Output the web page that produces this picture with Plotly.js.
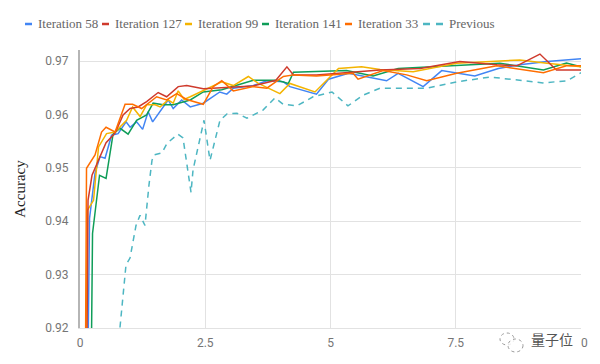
<!DOCTYPE html>
<html>
<head>
<meta charset="utf-8">
<script src="https://cdn.plot.ly/plotly-3.0.1.min.js"></script>
<style>html,body{margin:0;padding:0;background:#fff}#chart{width:600px;height:364px}</style>
</head>
<body>
<div id="chart"></div>
<script>
// ---- data ----
const seriesNames = ["Iteration 58", "Iteration 127", "Iteration 99", "Iteration 141", "Iteration 33", "Previous"];
const seriesColors = ["#4285f4", "#cf3a2c", "#f4b400", "#0f9d58", "#ff6d00", "#4db6c2"];

const it58X = [0.12,0.19,0.30,0.40,0.50,0.63,0.76,0.92,1.00,1.13,1.25,1.36,1.45,1.60,1.76,1.86,2.03,2.20,2.46,2.79,2.93,3.06,3.46,3.73,4.06,4.19,4.72,4.96,5.36,6.12,6.35,6.85,7.22,7.88,8.35,8.78,9.32,10.0];
const it58Y = [0.88,0.9405,0.9490,0.9521,0.9518,0.9561,0.9564,0.9586,0.9576,0.9586,0.9572,0.9605,0.9586,0.9605,0.9627,0.9611,0.9627,0.9614,0.9621,0.9642,0.9638,0.9649,0.9654,0.9663,0.9661,0.9652,0.9638,0.9666,0.9677,0.9663,0.9677,0.9652,0.9682,0.9672,0.9686,0.9693,0.9699,0.9704];

const it127X = [0.11,0.16,0.24,0.40,0.52,0.70,0.86,1.00,1.16,1.33,1.56,1.73,1.96,2.13,2.46,3.45,3.91,4.13,4.26,4.72,5.35,5.99,6.79,7.58,8.32,8.72,9.18,9.51,10.0];
const it127Y = [0.88,0.9439,0.9486,0.9521,0.9547,0.9565,0.9599,0.9611,0.9614,0.9624,0.9641,0.9633,0.9652,0.9654,0.9648,0.9653,0.9664,0.9689,0.9674,0.9674,0.9679,0.9683,0.9686,0.9699,0.9693,0.9691,0.9713,0.9683,0.9683];

const it99X = [0.07,0.15,0.27,0.37,0.53,0.70,0.93,1.05,1.20,1.33,1.50,1.60,1.76,1.86,1.96,2.08,2.20,2.49,2.83,3.06,3.36,3.56,3.99,4.19,4.69,5.16,5.62,5.99,6.65,7.52,8.78,9.32,10.0];
const it99Y = [0.88,0.9421,0.9439,0.9539,0.9564,0.9567,0.9589,0.9614,0.9596,0.9618,0.9618,0.9614,0.9627,0.9621,0.9644,0.9628,0.9633,0.9646,0.9661,0.9654,0.9671,0.9658,0.9639,0.9658,0.9642,0.9686,0.9689,0.9684,0.9680,0.9696,0.9702,0.9696,0.9689];

const it141X = [0.19,0.25,0.39,0.52,0.66,0.80,0.96,1.13,1.33,1.46,1.66,1.86,2.20,2.46,2.83,3.46,3.93,4.16,4.26,5.32,5.85,6.35,8.38,9.25,9.71,10.0];
const it141Y = [0.88,0.9377,0.9486,0.9480,0.9563,0.9574,0.9563,0.9589,0.9599,0.9621,0.9618,0.9618,0.9627,0.9642,0.9646,0.9664,0.9664,0.9658,0.9679,0.9682,0.9672,0.9686,0.9696,0.9683,0.9696,0.9689];

const it33X = [0.09,0.13,0.30,0.43,0.52,0.70,0.90,1.05,1.23,1.53,1.73,1.93,2.13,2.46,2.66,2.83,3.06,3.46,3.73,4.06,4.26,4.72,5.45,5.55,6.05,6.52,6.92,7.52,8.32,9.25,9.71,10.0];
const it33Y = [0.88,0.9499,0.9524,0.9567,0.9576,0.9567,0.9619,0.9619,0.9611,0.9633,0.9627,0.9639,0.9628,0.9619,0.9652,0.9663,0.9644,0.9652,0.9649,0.9671,0.9674,0.9672,0.9677,0.9666,0.9682,0.9674,0.9663,0.9677,0.9691,0.9678,0.9691,0.9691];

const prevX = [0.798,0.918,0.998,1.118,1.198,1.297,1.377,1.437,1.477,1.637,1.737,1.836,1.956,2.056,2.216,2.256,2.475,2.595,2.794,2.934,3.134,3.333,3.653,3.892,4.052,4.331,4.651,5.03,5.349,5.649,5.988,6.926,7.525,8.184,9.242,9.721,10.0];
const prevY = [0.9201,0.9318,0.9331,0.9392,0.9411,0.9392,0.9468,0.9514,0.9524,0.9528,0.9546,0.9554,0.9563,0.9556,0.9454,0.9496,0.9589,0.9514,0.9589,0.9601,0.9602,0.9593,0.9608,0.9631,0.9619,0.9616,0.9633,0.9642,0.9616,0.9636,0.9649,0.9649,0.9661,0.9670,0.9659,0.9663,0.9678];

const xTickVals = [0, 2.5, 5, 7.5, 10];
const xTickText = ["0", "2.5", "5", "7.5", "10"];
const yTickVals = [0.92, 0.93, 0.94, 0.95, 0.96, 0.97];
const yTickText = ["0.92", "0.93", "0.94", "0.95", "0.96", "0.97"];
const yTitle = "Accuracy";
const watermark = "量子位";

// ---- layout geometry ----
const W = 600, H = 364;
const M = {l: 80, r: 19, t: 50, b: 36};
const PW = W - M.l - M.r, PH = H - M.t - M.b;
const px2x = p => (p - M.l) / PW;
const py2y = p => (M.t + PH - p) / PH;

const xs = [it58X, it127X, it99X, it141X, it33X, prevX];
const ys = [it58Y, it127Y, it99Y, it141Y, it33Y, prevY];

const traces = seriesNames.map((n, i) => ({
  type: "scatter", mode: "lines", name: n, x: xs[i], y: ys[i],
  line: {color: seriesColors[i], width: 1.5, dash: i === 5 ? "6px,5px" : "solid"},
  showlegend: false, hoverinfo: "skip"
}));
const ordered = [traces[5], traces[0], traces[3], traces[2], traces[1], traces[4]];

// custom legend (symbol + text)
const legendSym = [25, 102, 185, 262, 345, 423];
const shapes = [];
const annotations = [];
const legY = py2y(24);
const serifFont = "Liberation Serif";
seriesNames.forEach((n, i) => {
  const s = legendSym[i];
  shapes.push({type: "line", xref: "paper", yref: "paper", x0: px2x(s), x1: px2x(s + 7), y0: legY, y1: legY, line: {color: seriesColors[i], width: 2.5}});
  if (i === 5) {
    shapes.push({type: "line", xref: "paper", yref: "paper", x0: px2x(s + 13), x1: px2x(s + 20), y0: legY, y1: legY, line: {color: seriesColors[i], width: 2.5}});
  }
  annotations.push({xref: "paper", yref: "paper", x: px2x(i === 5 ? s + 24 : s + 11), y: legY, xanchor: "left", yanchor: "middle",
    text: n, showarrow: false, font: {family: serifFont, size: 13, color: "#666"}});
});
// watermark
annotations.push({xref: "paper", yref: "paper", x: px2x(529), y: py2y(339), xanchor: "left", yanchor: "middle",
  text: watermark, showarrow: false, font: {family: "Noto Sans CJK SC", size: 14, color: "#555"}});
shapes.push({type: "rect", xref: "paper", yref: "paper", x0: px2x(574), x1: px2x(581), y0: py2y(350), y1: py2y(334), fillcolor: "#fff", line: {width: 0}, layer: "above"});
shapes.push({type: "circle", xref: "paper", yref: "paper", x0: px2x(500), x1: px2x(514), y0: py2y(345), y1: py2y(333), line: {color: "#999", width: 1, dash: "dot"}, fillcolor: "rgba(255,255,255,0.8)"});
shapes.push({type: "circle", xref: "paper", yref: "paper", x0: px2x(508), x1: px2x(523), y0: py2y(352), y1: py2y(339), line: {color: "#999", width: 1, dash: "dot"}, fillcolor: "rgba(255,255,255,0.8)"});

const layout = {
  width: W, height: H, margin: M,
  paper_bgcolor: "#fff", plot_bgcolor: "#fff",
  showlegend: false,
  xaxis: {range: [0, 10], tickvals: xTickVals, ticktext: xTickText, showgrid: true, gridcolor: "#e2e2e2", gridwidth: 1,
    zeroline: false, showline: true, linecolor: "#e2e2e2", linewidth: 1, ticks: "", ticklabelstandoff: 4,
    tickfont: {family: "Roboto", size: 12, color: "#757575"}},
  yaxis: {range: [0.92, 0.97206], tickvals: yTickVals, ticktext: yTickText, showgrid: true, gridcolor: "#e2e2e2", gridwidth: 1,
    zeroline: false, showline: true, linecolor: "#b5b5b5", linewidth: 2, ticks: "", ticklabelstandoff: 7,
    tickfont: {family: "Roboto", size: 12, color: "#757575"},
    title: {text: yTitle, standoff: 16, font: {family: serifFont, size: 15, color: "#222"}}},
  shapes: shapes, annotations: annotations
};
Plotly.newPlot("chart", ordered, layout, {displayModeBar: false, staticPlot: true});
</script>
</body>
</html>
